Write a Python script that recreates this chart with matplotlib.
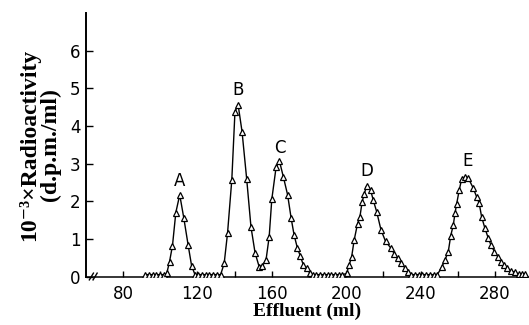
import matplotlib
matplotlib.use("Agg")
import matplotlib.pyplot as plt
import numpy as np

# ---- data ----
base1_ml = [92, 94, 96, 98, 100, 102]
base1_act = [0.05] * len(base1_ml)

peakA_ml = [103.5, 105.0, 106.6, 108.4, 110.5, 112.7, 115.0, 116.9, 118.7]
peakA_act = [0.08, 0.39, 0.82, 1.70, 2.17, 1.55, 0.84, 0.28, 0.05]

base2_ml = [120.5, 122.5, 124.5, 126.5, 128.5, 130.5, 132.5]
base2_act = [0.05] * len(base2_ml)

peakB_ml = [134.4, 136.2, 138.5, 140.2, 141.9, 144.0, 146.5, 148.8, 151.0, 153.2, 155.0]
peakB_act = [0.35, 1.15, 2.57, 4.38, 4.56, 3.85, 2.59, 1.32, 0.63, 0.26, 0.29]

peakC_ml = [156.9, 158.6, 160.0, 162.3, 164.1, 166.2, 168.5, 170.4, 172.0, 173.8,
            175.3, 177.0, 178.7, 180.4]
peakC_act = [0.44, 1.06, 2.05, 2.90, 3.07, 2.65, 2.17, 1.55, 1.10, 0.75,
             0.55, 0.30, 0.22, 0.10]

base3_ml = [182, 184, 186, 188, 190, 192, 194, 196, 198]
base3_act = [0.05] * len(base3_ml)

peakD_ml = [200.2, 201.6, 202.9, 204.3, 206.1, 207.4, 208.6, 209.7, 211.0, 213.1,
            214.6, 216.4, 218.7, 221.2, 224.1, 225.9, 227.7, 229.5, 231.6, 233.3]
peakD_act = [0.08, 0.31, 0.51, 0.97, 1.40, 1.59, 1.99, 2.19, 2.41, 2.30,
             2.02, 1.72, 1.24, 0.93, 0.75, 0.60, 0.48, 0.35, 0.23, 0.13]

base4_ml = [235, 237, 239, 241, 243, 245, 247, 249]
base4_act = [0.05] * len(base4_ml)

peakE_ml = [251.3, 253.1, 254.9, 256.2, 257.6, 258.5, 259.4, 260.8, 262.1, 263.9,
            265.7, 268.3, 270.1, 271.5, 272.8, 274.6, 276.4, 277.8, 279.7, 281.5,
            283.2, 284.8, 286.6, 288.4, 290.9, 292.7, 294.5, 296.3]
peakE_act = [0.24, 0.44, 0.66, 1.08, 1.37, 1.68, 1.93, 2.30, 2.59, 2.65,
             2.61, 2.35, 2.12, 1.95, 1.59, 1.28, 1.02, 0.84, 0.66, 0.53,
             0.39, 0.31, 0.22, 0.15, 0.11, 0.07, 0.06, 0.06]

peak_labels = ["A", "B", "C", "D", "E"]
label_ml = [110.3, 142.0, 164.1, 211.0, 265.3]
label_act = [2.55, 4.95, 3.42, 2.80, 3.06]

x_major = [80, 120, 160, 200, 240, 280]
x_minor = [100, 140, 180, 220, 260]
y_ticks = [0, 1, 2, 3, 4, 5, 6]

effluent = np.concatenate([base1_ml, peakA_ml, base2_ml, peakB_ml, peakC_ml,
                           base3_ml, peakD_ml, base4_ml, peakE_ml])
activity = np.concatenate([base1_act, peakA_act, base2_act, peakB_act, peakC_act,
                           base3_act, peakD_act, base4_act, peakE_act])

# ---- figure ----
fig = plt.figure(figsize=(5.29, 3.25), dpi=100)
ax = fig.add_axes([86 / 529, (325 - 276.5) / 325, (529 - 86) / 529, (276.5 - 13) / 325])

ax.plot(effluent, activity, color="black", lw=1.0, marker="^", ms=5.0,
        mfc="white", mec="black", mew=0.9, zorder=3)

for lab, xm, ym in zip(peak_labels, label_ml, label_act):
    ax.text(xm, ym, lab, ha="center", va="center", fontsize=12,
            family="DejaVu Sans", color="black")

ax.set_xlim(60.1, 298.3)
ax.set_ylim(0, 7.0)
ax.spines["top"].set_visible(False)
ax.spines["right"].set_visible(False)
ax.spines["left"].set_linewidth(1.4)
ax.spines["bottom"].set_linewidth(1.1)

ax.set_xticks(x_major)
ax.set_xticks(x_minor, minor=True)
ax.set_yticks(y_ticks)
ax.tick_params(axis="x", which="both", direction="in", length=4, width=1.0,
               pad=6, labelsize=12)
ax.tick_params(axis="y", direction="in", length=5, width=1.0, pad=4, labelsize=12)

# axis break marks
brk = 64.0
for dx in (-1.0, 1.0):
    ax.plot([brk + dx - 1.1, brk + dx + 1.1], [-0.09, 0.09], color="black",
            lw=1.0, clip_on=False, zorder=4)

ax.set_xlabel("Effluent (ml)", family=["Liberation Serif", "DejaVu Serif"],
              fontweight="bold", fontsize=14, labelpad=0)
ax.set_ylabel("10\u207b\u00b3\u00d7Radioactivity\n(d.p.m./ml)",
              family=["Liberation Serif", "DejaVu Serif"], fontweight="bold",
              fontsize=17, linespacing=1.0, labelpad=6)

fig.savefig("out.png", dpi=100)
